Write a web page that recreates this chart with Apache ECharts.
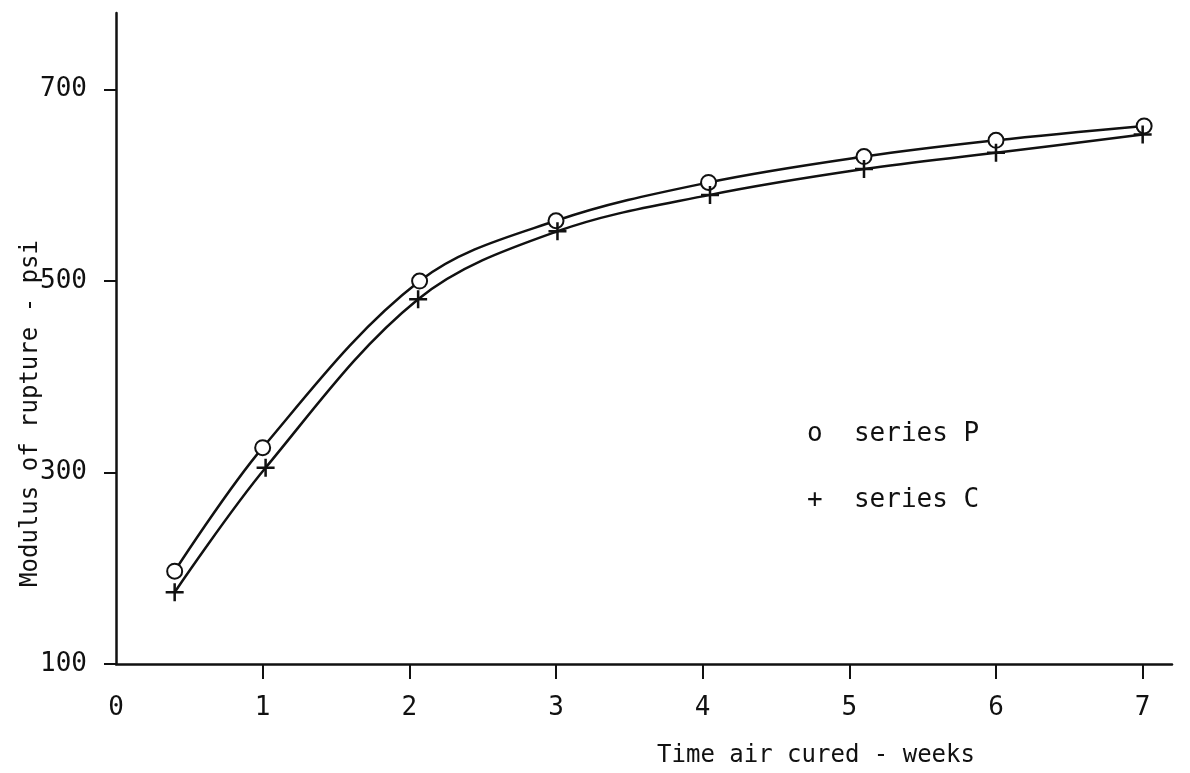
<!DOCTYPE html>
<html>
<head>
<meta charset="utf-8">
<script src="https://cdn.jsdelivr.net/npm/echarts@6/dist/echarts.min.js"></script>
<style>
  html, body { margin: 0; padding: 0; background: #fff; }
  #chart { width: 1190px; height: 773px; }
</style>
</head>
<body>
<div id="chart"></div>
<script>
// weeks of air curing
const weeksP = [0.4, 1.0, 2.07, 3.0, 4.04, 5.1, 6.0, 7.01];
const weeksC = [0.4, 1.02, 2.06, 3.01, 4.05, 5.1, 6.0, 7.0];
// modulus of rupture, psi
const ruptureP = [197, 326, 500, 563, 603, 630, 647, 662];
const ruptureC = [175, 305, 481, 552, 590, 617, 634, 653];
const xTicks = [0, 1, 2, 3, 4, 5, 6, 7];
const yTicks = [100, 300, 500, 700];

const font = "DejaVu Sans Mono";
const plus = "path://M4.3,0H5.7V4.3H10V5.7H5.7V10H4.3V5.7H0V4.3H4.3Z";

const chart = echarts.init(document.getElementById("chart"));

chart.setOption({
    backgroundColor: "#fff",
    animation: false,
    grid: { left: 116, right: 18, top: 13, bottom: 107 },
    legend: {
        left: 797,
        top: 416,
        orient: "vertical",
        itemGap: 40,
        itemWidth: 0,
        selectedMode: false,
        data: [
            { name: "series P", icon: "none" },
            { name: "series C", icon: "none" }
        ],
        formatter: n => (n === "series P" ? "o" : "+") + "  " + n,
        textStyle: { fontFamily: font, fontSize: 26, color: "#111" }
    },
    xAxis: {
        type: "value",
        min: 0,
        max: 7.2,
        name: "Time air cured - weeks",
        nameLocation: "middle",
        nameGap: 80,
        nameTextStyle: { fontFamily: font, fontSize: 24, color: "#111", padding: [0, 0, 0, 344] },
        axisLine: { lineStyle: { color: "#111", width: 2.5 } },
        axisTick: { length: 15, customValues: [1, 2, 3, 4, 5, 6, 7], lineStyle: { color: "#111", width: 2 } },
        axisLabel: { customValues: xTicks, margin: 31, fontFamily: font, fontSize: 26, color: "#111" },
        splitLine: { show: false }
    },
    yAxis: {
        type: "value",
        min: 100,
        max: 780,
        name: "Modulus of rupture - psi",
        nameLocation: "middle",
        nameRotate: 90,
        nameGap: 73,
        nameMoveOverlap: false,
        nameTextStyle: { fontFamily: font, fontSize: 24, color: "#111", padding: [0, 150, 0, 0] },
        axisLine: { show: true, lineStyle: { color: "#111", width: 2.5 } },
        axisTick: { show: true, length: 12, customValues: yTicks, lineStyle: { color: "#111", width: 2 } },
        axisLabel: { customValues: yTicks, margin: 29, fontFamily: font, fontSize: 26, color: "#111" },
        splitLine: { show: false }
    },
    series: [
        {
            name: "series P",
            type: "line",
            smooth: 0.35,
            data: weeksP.map((w, i) => [w, ruptureP[i]]),
            symbol: "emptyCircle",
            symbolSize: 15,
            lineStyle: { color: "#111", width: 2.5 },
            itemStyle: { color: "#111", borderColor: "#111", borderWidth: 1.5 }
        },
        {
            name: "series C",
            type: "line",
            smooth: 0.35,
            data: weeksC.map((w, i) => [w, ruptureC[i]]),
            symbol: plus,
            symbolSize: 18,
            lineStyle: { color: "#111", width: 2.5 },
            itemStyle: { color: "#111" }
        }
    ]
});
</script>
</body>
</html>
